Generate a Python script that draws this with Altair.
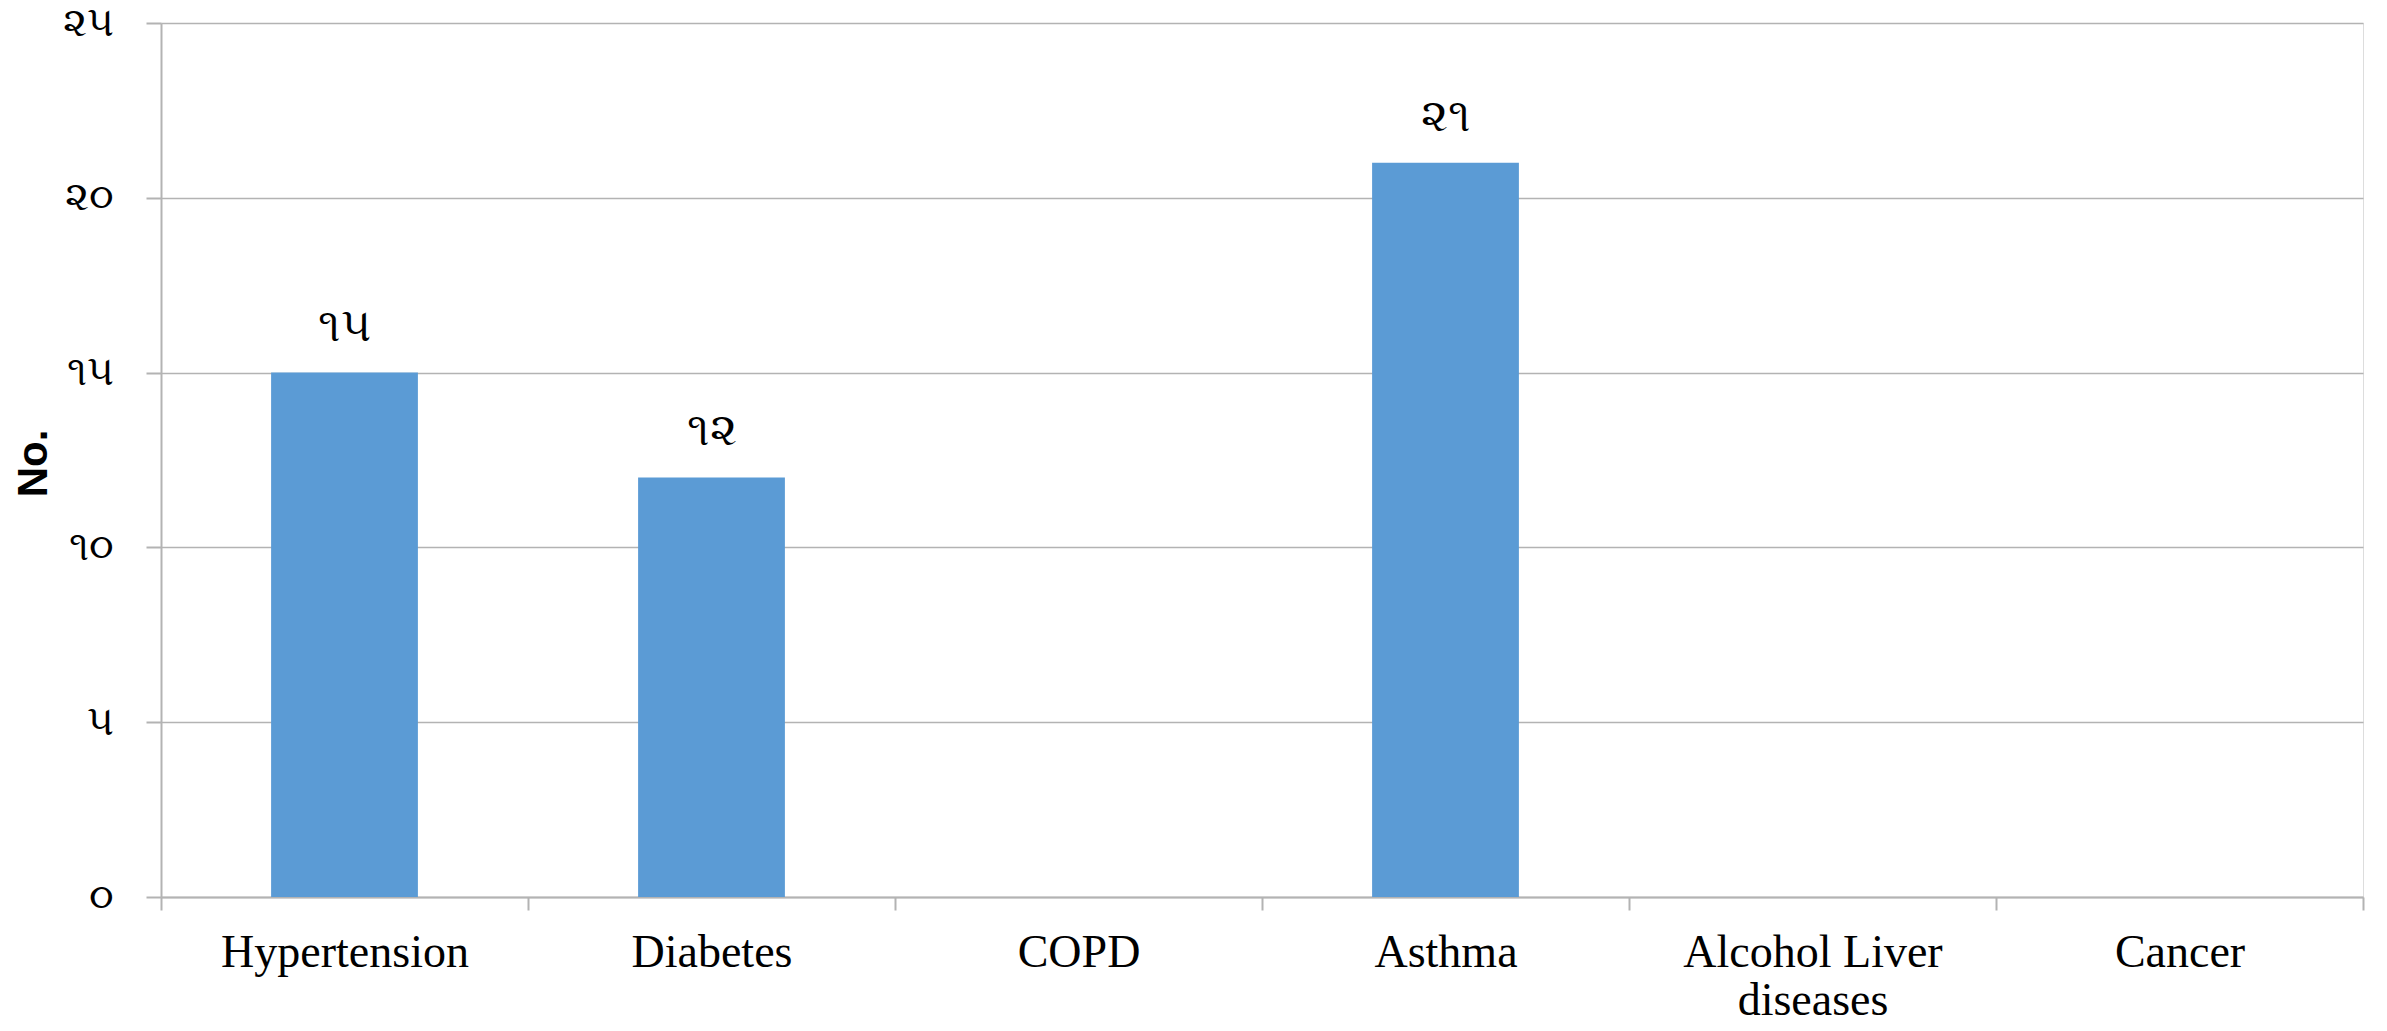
import altair as alt
import pandas as pd

categories = ["Hypertension", "Diabetes", "COPD", "Asthma", "Alcohol Liver diseases", "Cancer"]
values = [15, 12, 0, 21, 0, 0]
value_labels = ["૧૫", "૧૨", "", "૨૧", "", ""]
y_ticks = [0, 5, 10, 15, 20, 25]
y_tick_labels = ["૦", "૫", "૧૦", "૧૫", "૨૦", "૨૫"]
y_title = "No."

df = pd.DataFrame({"cat": categories, "val": values, "lab": value_labels})

label_map = "{" + ",".join(f"'{v}':'{l}'" for v, l in zip(y_ticks, y_tick_labels)) + "}"
y_label_expr = f"{label_map}[datum.value]"
x_label_expr = "datum.label == 'Alcohol Liver diseases' ? ['Alcohol Liver', 'diseases'] : datum.label"

W, H = 2202, 874

x = alt.X("cat:N", sort=categories, title=None,
          scale=alt.Scale(paddingInner=0, paddingOuter=0),
          axis=alt.Axis(labelAngle=0, labelFont="Liberation Serif", labelFontSize=46,
                        labelColor="#000000", labelPadding=20, labelLineHeight=48,
                        labelLimit=0, labelOverlap=False,
                        labelExpr=x_label_expr, tickBand="extent", tickSize=13,
                        tickColor="#b3b3b3", tickWidth=2, domainColor="#b3b3b3",
                        domainWidth=2, grid=False, labelBaseline="top"))

y = alt.Y("val:Q", title=y_title,
          scale=alt.Scale(domain=[0, 25], nice=False),
          axis=alt.Axis(values=y_ticks, labelExpr=y_label_expr, labelFontSize=41,
                        labelColor="#000000", labelPadding=33, tickSize=15,
                        tickColor="#b3b3b3", tickWidth=2, domainColor="#b3b3b3",
                        domainWidth=2, gridColor="#b3b3b3", gridWidth=1.5,
                        titleFont="Liberation Sans", titleFontSize=42,
                        titleFontWeight="bold", titleColor="#000000",
                        titleAngle=270, titleX=-106, titleY=H / 2 + 3,
                        titleAlign="center", titleBaseline="bottom"))

bars = alt.Chart(df).mark_bar(color="#5B9BD5", width=alt.RelativeBandSize(0.4)).encode(x=x, y=y)
texts = alt.Chart(df).mark_text(fontSize=46, color="#000000", baseline="alphabetic", dy=-32).encode(
    x=x, y=y, text="lab:N")

chart = alt.layer(bars, texts).properties(
    width=W, height=H,
    autosize=alt.AutoSizeParams(type="none"),
    padding={"left": 153, "top": 15, "right": 10, "bottom": 130},
).configure_view(stroke=None).configure(background="#ffffff")

chart.save("out.html", embed_options={"renderer": "svg", "actions": False})
